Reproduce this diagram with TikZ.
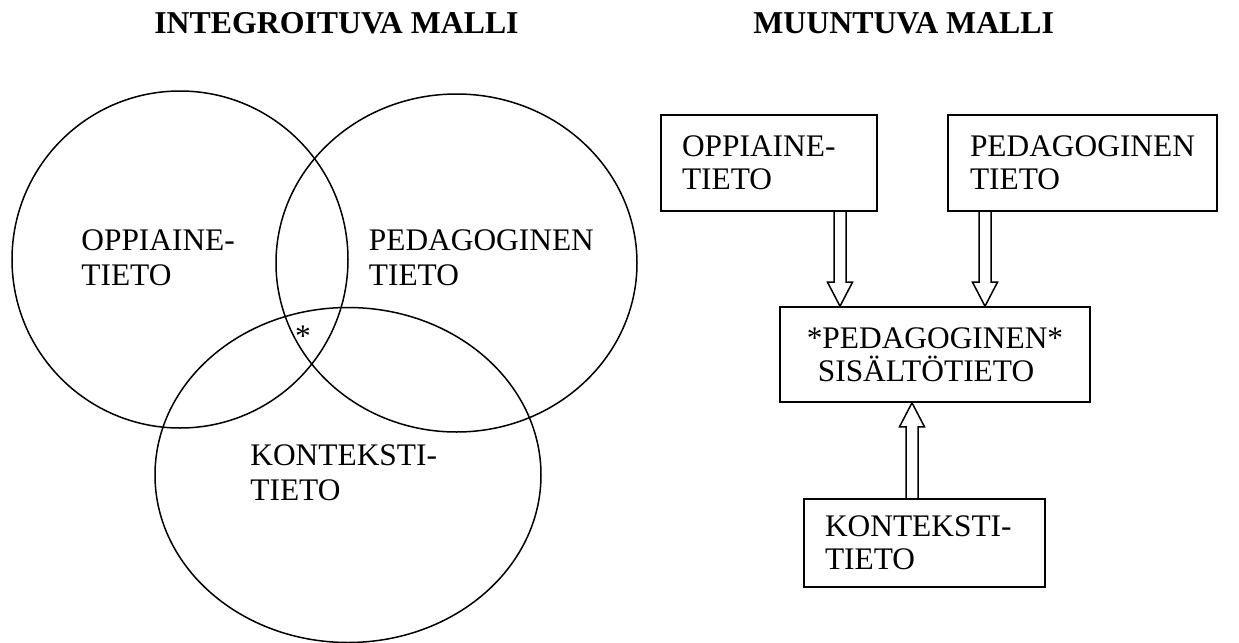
\documentclass[tikz,border=0pt]{standalone}
\usepackage{fontspec}
\setmainfont{Liberation Serif}
\usetikzlibrary{calc}
\newcommand\hollowarrow[2]{%
  \draw[arrowline] ($(#1)+(-6,0)$) -- ($(#2)!12pt!(#1)+(-6,0)$)
    -- ($(#2)!12pt!(#1)+(-12.5,0)$) -- (#2)
    -- ($(#2)!12pt!(#1)+(12.5,0)$) -- ($(#2)!12pt!(#1)+(6,0)$)
    -- ($(#1)+(6,0)$);}
\begin{document}
\begin{tikzpicture}[x=0.5pt,y=-0.5pt,
  circ/.style={line width=0.75pt},
  box/.style={draw, line width=0.8pt, inner ysep=0pt, font=\fontsize{15.7}{16.5}\selectfont},
  boxl/.style={box, align=left, inner xsep=10.5pt},
  title/.style={font=\fontsize{15.9}{18}\selectfont\bfseries, inner sep=0pt},
  lbl/.style={font=\fontsize{15.7}{17.5}\selectfont, align=left, inner sep=0pt, anchor=north west},
  arrowline/.style={line width=0.75pt, line join=miter}]
\useasboundingbox (0,0) rectangle (1239,643);
% titles
\node[title, anchor=base] (t1) at (336.5,33) {INTEGROITUVA MALLI};
\node[title, anchor=base west] (t2) at (753,33) {MUUNTUVA MALLI};
% integrating model
\draw[circ] (180,259.5) ellipse [x radius=84pt, y radius=84.25pt];
\draw[circ] (456.5,263) ellipse [x radius=90.25pt, y radius=84.5pt];
\draw[circ] (348,475) ellipse [x radius=96.5pt, y radius=83.75pt];
\node[lbl] (l1) at (81,229) {OPPIAINE-\\TIETO};
\node[lbl] (l2) at (368.5,229) {PEDAGOGINEN\\TIETO};
\node[lbl] (l3) at (250,444) {KONTEKSTI-\\TIETO};
\node[inner sep=0pt, font=\fontsize{15.7}{16.5}\selectfont] (star) at (303,336) {*};
% transforming model
\node[boxl, minimum width=108pt, minimum height=48pt, text width=87pt] (b1) at (769,163) {OPPIAINE-\\TIETO};
\node[boxl, inner xsep=11pt, minimum width=134.5pt, minimum height=48pt, text width=112.5pt] (b2) at (1082.5,163) {PEDAGOGINEN\\TIETO};
\node[box, align=center, minimum width=155pt, minimum height=47.5pt, text width=140pt] (b3) at (935,354.5) {*PEDAGOGINEN*\\\hspace*{-9pt}SISÄLTÖTIETO};
\node[boxl, minimum width=120.5pt, minimum height=44pt, text width=99.5pt] (b4) at (924.5,543) {KONTEKSTI-\\TIETO};
\coordinate (x1) at (840,0);
\coordinate (x2) at (985,0);
\coordinate (x3) at (912,0);
\coordinate (a1s) at (b1.south -| x1);
\coordinate (a1e) at (b3.north -| x1);
\coordinate (a2s) at (b2.south -| x2);
\coordinate (a2e) at (b3.north -| x2);
\coordinate (a3s) at (b4.north -| x3);
\coordinate (a3e) at (b3.south -| x3);
\hollowarrow{a1s}{a1e}
\hollowarrow{a2s}{a2e}
\hollowarrow{a3s}{a3e}
\end{tikzpicture}
\end{document}
